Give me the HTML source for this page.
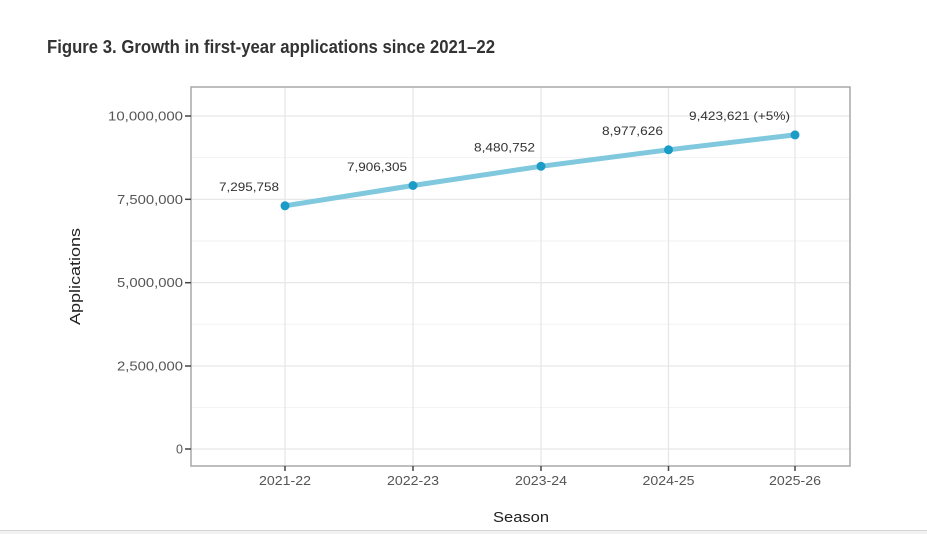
<!DOCTYPE html>
<html><head><meta charset="utf-8"><style>
html,body{margin:0;padding:0;background:#fff;}
svg{display:block;}
text{font-family:"Liberation Sans","DejaVu Sans",sans-serif;}
</style></head><body>
<svg width="927" height="534" viewBox="0 0 927 534" xmlns="http://www.w3.org/2000/svg">
<rect x="0" y="0" width="927" height="534" fill="#fff"/>
<text x="47" y="53" font-size="18.5" font-weight="bold" fill="#333" textLength="448" lengthAdjust="spacingAndGlyphs">Figure 3. Growth in first-year applications since 2021–22</text>
<!-- panel -->
<rect x="191" y="87" width="659" height="379" fill="#fff"/>
<!-- minor grid -->
<g stroke="#f2f2f2" stroke-width="1">
<line x1="191" y1="157.6" x2="850" y2="157.6"/>
<line x1="191" y1="241" x2="850" y2="241"/>
<line x1="191" y1="324.3" x2="850" y2="324.3"/>
<line x1="191" y1="407.6" x2="850" y2="407.6"/>
</g>
<!-- major grid -->
<g stroke="#e6e6e6" stroke-width="1.2">
<line x1="191" y1="116" x2="850" y2="116"/>
<line x1="191" y1="199.3" x2="850" y2="199.3"/>
<line x1="191" y1="282.7" x2="850" y2="282.7"/>
<line x1="191" y1="366" x2="850" y2="366"/>
<line x1="191" y1="449" x2="850" y2="449"/>
<line x1="285" y1="87" x2="285" y2="466"/>
<line x1="413" y1="87" x2="413" y2="466"/>
<line x1="541" y1="87" x2="541" y2="466"/>
<line x1="668.5" y1="87" x2="668.5" y2="466"/>
<line x1="795" y1="87" x2="795" y2="466"/>
</g>
<rect x="191" y="87" width="659" height="379" fill="none" stroke="#a8a8a8" stroke-width="1.5"/>
<!-- ticks -->
<g stroke="#444" stroke-width="1.5">
<line x1="185" y1="116" x2="191" y2="116"/>
<line x1="185" y1="199.3" x2="191" y2="199.3"/>
<line x1="185" y1="282.7" x2="191" y2="282.7"/>
<line x1="185" y1="366" x2="191" y2="366"/>
<line x1="185" y1="449" x2="191" y2="449"/>
<line x1="285" y1="466" x2="285" y2="471"/>
<line x1="413" y1="466" x2="413" y2="471"/>
<line x1="541" y1="466" x2="541" y2="471"/>
<line x1="668.5" y1="466" x2="668.5" y2="471"/>
<line x1="795" y1="466" x2="795" y2="471"/>
</g>
<!-- y labels -->
<g font-size="12.5" fill="#555" text-anchor="end">
<text x="183" y="120.5" textLength="75" lengthAdjust="spacingAndGlyphs">10,000,000</text>
<text x="183" y="203.8" textLength="66" lengthAdjust="spacingAndGlyphs">7,500,000</text>
<text x="183" y="287.2" textLength="66" lengthAdjust="spacingAndGlyphs">5,000,000</text>
<text x="183" y="370.5" textLength="66" lengthAdjust="spacingAndGlyphs">2,500,000</text>
<text x="183" y="453.5">0</text>
</g>
<!-- x labels -->
<g font-size="12.5" fill="#555" text-anchor="middle">
<text x="285" y="485" textLength="52" lengthAdjust="spacingAndGlyphs">2021-22</text>
<text x="413" y="485" textLength="52" lengthAdjust="spacingAndGlyphs">2022-23</text>
<text x="541" y="485" textLength="52" lengthAdjust="spacingAndGlyphs">2023-24</text>
<text x="668.5" y="485" textLength="52" lengthAdjust="spacingAndGlyphs">2024-25</text>
<text x="795" y="485" textLength="52" lengthAdjust="spacingAndGlyphs">2025-26</text>
</g>
<!-- axis titles -->
<text x="521" y="522" font-size="15" fill="#222" text-anchor="middle" textLength="56" lengthAdjust="spacingAndGlyphs">Season</text>
<text transform="translate(80,276.5) rotate(-90)" font-size="15" fill="#222" text-anchor="middle" textLength="97" lengthAdjust="spacingAndGlyphs">Applications</text>
<!-- line -->
<polyline points="285,205.8 413,185.5 541,166.3 668.5,149.8 795,134.9" fill="none" stroke="#7fc8dd" stroke-width="5" stroke-linecap="round" stroke-linejoin="round"/>
<g fill="#1b9cc6">
<circle cx="285" cy="205.8" r="4.5"/>
<circle cx="413" cy="185.5" r="4.5"/>
<circle cx="541" cy="166.3" r="4.5"/>
<circle cx="668.5" cy="149.8" r="4.5"/>
<circle cx="795" cy="134.9" r="4.5"/>
</g>
<!-- data labels -->
<g font-size="12" fill="#333" text-anchor="end">
<text x="279" y="191" textLength="60" lengthAdjust="spacingAndGlyphs">7,295,758</text>
<text x="407" y="171" textLength="60" lengthAdjust="spacingAndGlyphs">7,906,305</text>
<text x="535" y="151.5" textLength="61" lengthAdjust="spacingAndGlyphs">8,480,752</text>
<text x="663" y="135" textLength="61" lengthAdjust="spacingAndGlyphs">8,977,626</text>
<text x="790" y="120" textLength="101" lengthAdjust="spacingAndGlyphs">9,423,621 (+5%)</text>
</g>
<!-- bottom page edge -->
<rect x="0" y="530.5" width="927" height="3.5" fill="#f1f1f1"/>
<line x1="0" y1="530.5" x2="927" y2="530.5" stroke="#d6d6d6" stroke-width="1"/>
</svg>
</body></html>
